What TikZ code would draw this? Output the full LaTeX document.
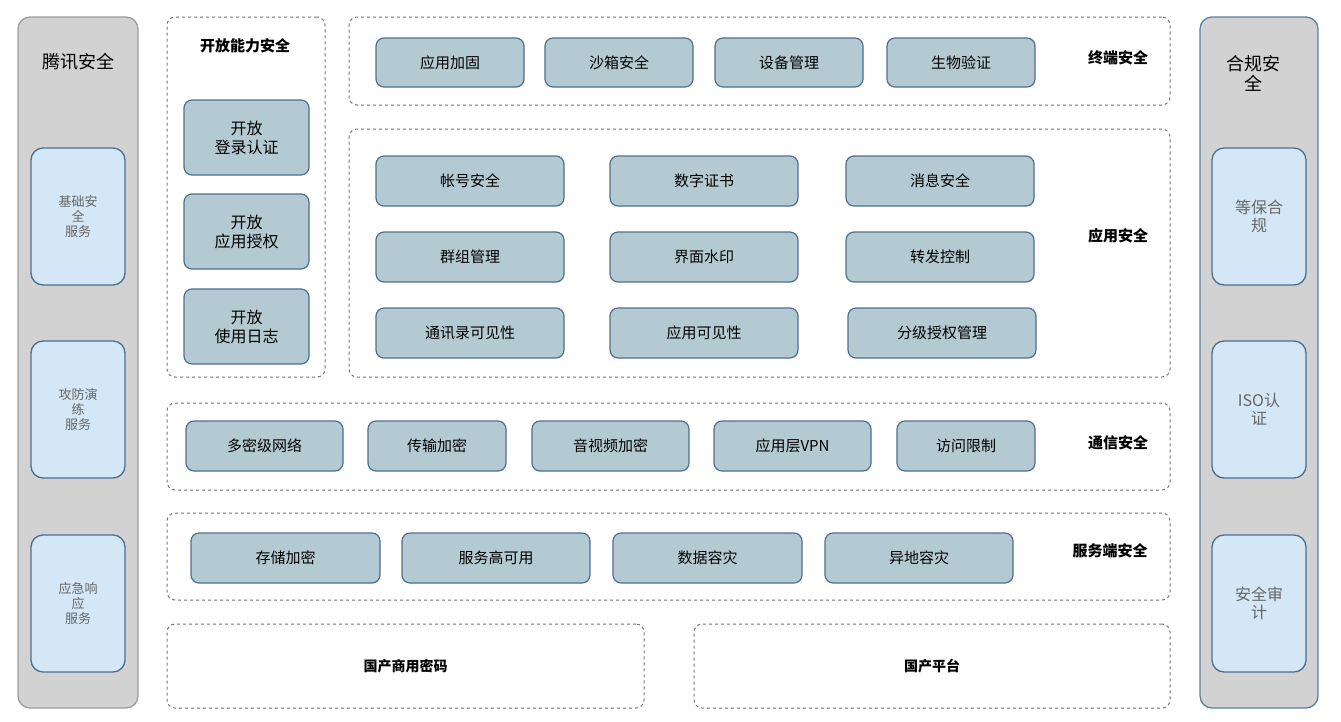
\documentclass[tikz,border=0pt]{standalone}
\usepackage{fontspec}
\setmainfont{Noto Sans CJK SC}
\definecolor{itemfill}{HTML}{B4CAD2}
\definecolor{itemdraw}{HTML}{4E6F8E}
\definecolor{svcfill}{HTML}{D3E7F6}
\definecolor{svcdraw}{HTML}{4A6E94}
\definecolor{pfill}{HTML}{D2D2D2}
\definecolor{rdraw}{HTML}{5A80A2}
\begin{document}
\begin{tikzpicture}[x=1pt,y=-1pt,
 panel/.style={draw=#1,fill=pfill,rounded corners=12pt,line width=1.3pt},
 svc/.style={draw=svcdraw,fill=svcfill,rounded corners=12pt,line width=1.3pt,align=center,text=black!60,font=\fontsize{13}{15}\selectfont},
 grp/.style={draw=black!55,dashed,rounded corners=8pt,line width=1pt},
 item/.style={draw=itemdraw,fill=itemfill,rounded corners=8pt,line width=1.2pt,align=center,font=\fontsize{15}{17}\selectfont},
 lab/.style={font=\bfseries\fontsize{15}{17}\selectfont}]
\useasboundingbox (0,0) rectangle (1341,721);
\newcommand\bx[6]{\node[#1,minimum width={#4-#2},minimum height={#5-#3},inner sep=0pt] (#6) at ({(#2+#4)/2},{(#3+#5)/2}) {};}
\newcommand\bt[7]{\node[#1,minimum width={#4-#2},minimum height={#5-#3},inner sep=0pt] (#6) at ({(#2+#4)/2},{(#3+#5)/2}) {#7};}
% side panels
\bx{panel=black!38}{18}{17}{138}{708}{lp}
\node[font=\fontsize{18}{21}\selectfont] (lpt) at (78,62) {腾讯安全};
\bt{svc}{31}{148}{125}{285}{l1}{基础安\\全\\服务}
\bt{svc}{31}{341}{125}{478}{l2}{攻防演\\练\\服务}
\bt{svc}{31}{535}{125}{672}{l3}{应急响\\应\\服务}
\bx{panel=rdraw}{1200}{17}{1318}{708}{rp}
\node[font=\fontsize{18}{20}\selectfont,align=center] (rpt) at (1253,73) {合规安\\全};
\bt{svc,font=\fontsize{16}{18}\selectfont}{1212}{148}{1306}{285}{r1}{等保合\\规}
\bt{svc,font=\fontsize{16}{18}\selectfont}{1212}{341}{1306}{478}{r2}{ISO认\\证}
\bt{svc,font=\fontsize{16}{18}\selectfont}{1212}{535}{1306}{672}{r3}{安全审\\计}
% open ability
\bx{grp}{167}{17}{325}{377}{og}
\node[lab] (ogt) at (245,46) {开放能力安全};
\bt{item,font=\fontsize{16}{19}\selectfont}{184}{100}{309}{175}{o1}{开放\\登录认证}
\bt{item,font=\fontsize{16}{19}\selectfont}{184}{194}{309}{269}{o2}{开放\\应用授权}
\bt{item,font=\fontsize{16}{19}\selectfont}{184}{289}{309}{364}{o3}{开放\\使用日志}
% terminal
\bx{grp}{349}{17}{1170}{105}{tg}
\node[lab] (tgt) at (1118,58) {终端安全};
\bt{item}{376}{38}{524}{87}{t1}{应用加固}
\bt{item}{545}{38}{693}{87}{t2}{沙箱安全}
\bt{item}{715}{38}{863}{87}{t3}{设备管理}
\bt{item}{887}{38}{1035}{87}{t4}{生物验证}
% application
\bx{grp}{349}{129}{1170}{377}{ag}
\node[lab] (agt) at (1118,236) {应用安全};
\bt{item}{376}{156}{564}{206}{a1}{帐号安全}
\bt{item}{610}{156}{798}{206}{a2}{数字证书}
\bt{item}{846}{156}{1034}{206}{a3}{消息安全}
\bt{item}{376}{232}{564}{282}{a4}{群组管理}
\bt{item}{610}{232}{798}{282}{a5}{界面水印}
\bt{item}{846}{232}{1034}{282}{a6}{转发控制}
\bt{item}{376}{308}{564}{358}{a7}{通讯录可见性}
\bt{item}{610}{308}{798}{358}{a8}{应用可见性}
\bt{item}{848}{308}{1036}{358}{a9}{分级授权管理}
% communication
\bx{grp}{167}{403}{1170}{490}{cg}
\node[lab] (cgt) at (1118,443) {通信安全};
\bt{item}{186}{421}{343}{471}{c1}{多密级网络}
\bt{item}{368}{421}{506}{471}{c2}{传输加密}
\bt{item}{532}{421}{689}{471}{c3}{音视频加密}
\bt{item}{714}{421}{871}{471}{c4}{应用层VPN}
\bt{item}{897}{421}{1035}{471}{c5}{访问限制}
% server
\bx{grp}{167}{513}{1170}{600}{sg}
\node[lab] (sgt) at (1110,551) {服务端安全};
\bt{item}{191}{533}{380}{583}{s1}{存储加密}
\bt{item}{402}{533}{590}{583}{s2}{服务高可用}
\bt{item}{613}{533}{802}{583}{s3}{数据容灾}
\bt{item}{825}{533}{1013}{583}{s4}{异地容灾}
% bottom
\bt{grp,font=\bfseries\fontsize{14}{16}\selectfont}{167}{624}{644}{708}{b1}{国产商用密码}
\bt{grp,font=\bfseries\fontsize{14}{16}\selectfont}{694}{624}{1170}{708}{b2}{国产平台}
\end{tikzpicture}
\end{document}
